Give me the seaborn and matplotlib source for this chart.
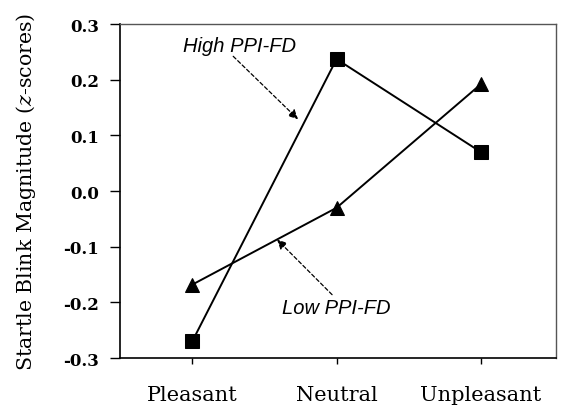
import pandas as pd
import numpy as np
import matplotlib
matplotlib.use('Agg')
import matplotlib.pyplot as plt
import seaborn as sns

# 数据
conditions = ['Pleasant', 'Neutral', 'Unpleasant']
high_ppi_fd = [-0.27, 0.237, 0.07]
low_ppi_fd = [-0.168, -0.03, 0.192]
y_ticks = [-0.3, -0.2, -0.1, 0.0, 0.1, 0.2, 0.3]

sns.set_style('ticks')
plt.rcParams['font.family'] = ['DejaVu Serif']
plt.rcParams['mathtext.fontset'] = 'dejavuserif'
plt.rcParams['text.color'] = 'black'
plt.rcParams['axes.labelcolor'] = 'black'

df = pd.DataFrame({
    'condition': conditions * 2,
    'x': list(range(3)) * 2,
    'value': high_ppi_fd + low_ppi_fd,
    'group': ['High PPI-FD'] * 3 + ['Low PPI-FD'] * 3,
})

fig = plt.figure(figsize=(5.61, 4.10), dpi=100)
ax = fig.add_axes([0.214, 0.124, 0.777, 0.815])

sns.lineplot(data=df, x='x', y='value', hue='group', style='group',
             markers={'High PPI-FD': 's', 'Low PPI-FD': '^'}, dashes=False,
             palette={'High PPI-FD': 'black', 'Low PPI-FD': 'black'},
             markersize=10, linewidth=1.4, markeredgecolor='black',
             legend=False, ax=ax)

ax.set_xlim(-0.5, 2.52)
ax.set_ylim(-0.3, 0.3)
ax.set_xticks(range(3))
ax.set_xticklabels(conditions, fontsize=15)
ax.set_yticks(y_ticks)
ax.set_yticklabels([f'{v:.1f}' for v in y_ticks], fontsize=12, fontweight='bold')
ax.set_xlabel('')
ax.set_ylabel('Startle Blink Magnitude ($\\it{z}$-scores)', fontsize=14.8,
              labelpad=18, color='black')
ax.tick_params(axis='x', direction='out', length=4.5, width=1, pad=15, colors='black')
ax.tick_params(axis='y', direction='out', length=7, width=1, pad=8, colors='black')

for side in ['left', 'bottom']:
    ax.spines[side].set_color('black')
    ax.spines[side].set_linewidth(1.2)
for side in ['top', 'right']:
    ax.spines[side].set_visible(True)
    ax.spines[side].set_color('#555555')
    ax.spines[side].set_linewidth(1.0)

# 标注
ax.text(0.33, 0.262, 'High PPI-FD', fontsize=14.5, style='italic', color='black',
        family='Liberation Sans', ha='center', va='center')
ax.annotate('', xy=(0.733, 0.129), xytext=(0.284, 0.242),
            arrowprops=dict(arrowstyle='-|>', linestyle=(0, (3, 2)), color='black',
                            lw=0.9, shrinkA=0, shrinkB=0, mutation_scale=14))
ax.text(1.0, -0.209, 'Low PPI-FD', fontsize=14.5, style='italic', color='black',
        family='Liberation Sans', ha='center', va='center')
ax.annotate('', xy=(0.588, -0.087), xytext=(0.969, -0.186),
            arrowprops=dict(arrowstyle='-|>', linestyle=(0, (3, 2)), color='black',
                            lw=0.9, shrinkA=0, shrinkB=0, mutation_scale=14))

fig.savefig('out.png', dpi=100)
plt.close()
